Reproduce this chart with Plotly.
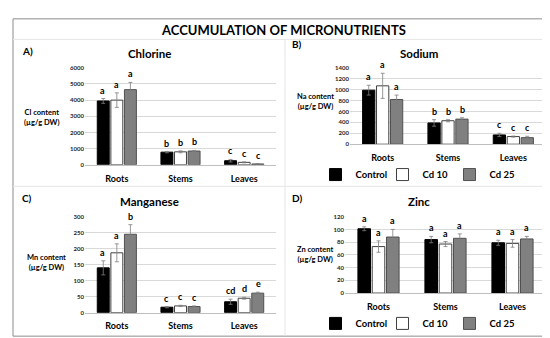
import plotly.graph_objects as go

organs = ["Roots", "Stems", "Leaves"]
treatments = ["Control", "Cd 10", "Cd 25"]

# Chlorine (µg/g DW)
cl_vals = {"Control": [3950, 780, 250], "Cd 10": [4000, 800, 150], "Cd 25": [4650, 850, 50]}
cl_err = {"Control": [150, 40, 80], "Cd 10": [450, 60, 30], "Cd 25": [450, 40, 20]}
cl_let = {"Control": ["a", "b", "c"], "Cd 10": ["a", "b", "c"], "Cd 25": ["a", "b", "c"]}

# Sodium
na_vals = {"Control": [990, 390, 170], "Cd 10": [1070, 430, 140], "Cd 25": [820, 460, 120]}
na_err = {"Control": [90, 60, 30], "Cd 10": [230, 20, 10], "Cd 25": [80, 25, 25]}
na_let = {"Control": ["a", "b", "c"], "Cd 10": ["a", "b", "c"], "Cd 25": ["a", "b", "c"]}

# Manganese
mn_vals = {"Control": [140, 17, 34], "Cd 10": [187, 21, 45], "Cd 25": [245, 19, 61]}
mn_err = {"Control": [22, 2, 8], "Cd 10": [28, 2, 3], "Cd 25": [30, 2, 3]}
mn_let = {"Control": ["a", "c", "cd"], "Cd 10": ["a", "c", "d"], "Cd 25": ["b", "c", "e"]}

# Zinc
zn_vals = {"Control": [101, 84, 79], "Cd 10": [73, 77, 78], "Cd 25": [88, 86, 85]}
zn_err = {"Control": [3, 5, 4], "Cd 10": [9, 4, 6], "Cd 25": [12, 7, 4]}
zn_let = {"Control": ["a", "a", "a"], "Cd 10": ["a", "a", "a"], "Cd 25": ["a", "a", "a"]}

fill = {"Control": "#000000", "Cd 10": "#ffffff", "Cd 25": "#808080"}
edge = {"Control": "#000000", "Cd 10": "#404040", "Cd 25": "#505050"}
shift = {"Control": -14, "Cd 10": 0, "Cd 25": 14}

FONT = "Lato"
W, H = 550, 338

def px_x(p):
    return p / W

def px_y(p):
    return 1 - p / H

fig = go.Figure()

panels = [
    ("", "", cl_vals, cl_err, cl_let, 6000, 1000, None),
    ("2", "2", na_vals, na_err, na_let, 1400, 200, "legend"),
    ("3", "3", mn_vals, mn_err, mn_let, 300, 50, None),
    ("4", "4", zn_vals, zn_err, zn_let, 120, 20, "legend2"),
]

annotations = []
for xs, ys, vals, errs, lets, ymax, dt, leg in panels:
    for t in treatments:
        fig.add_trace(go.Bar(
            x=organs, y=vals[t], name="<b>%s</b>" % t,
            xaxis="x" + xs, yaxis="y" + ys,
            marker=dict(color=fill[t], line=dict(color=edge[t], width=1)),
            error_y=dict(type="data", array=errs[t], color="#7f7f7f", thickness=0.8, width=2),
            showlegend=leg is not None,
            legend=leg if leg else "legend",
        ))
        for o, v, e, l in zip(organs, vals[t], errs[t], lets[t]):
            annotations.append(dict(
                x=o, y=v + e, xref="x" + xs, yref="y" + ys, text="<b>%s</b>" % l,
                showarrow=False, xshift=shift[t], yshift=1, yanchor="bottom",
                font=dict(family=FONT, size=9, color="#000"),
            ))

axis_common = dict(showgrid=False, showline=True, linecolor="#bfbfbf", linewidth=1,
                   ticks="outside", ticklen=5, tickcolor="rgba(0,0,0,0)",
                   tickfont=dict(family=FONT, size=9, color="#000"), fixedrange=True)
yaxis_common = dict(showgrid=True, gridcolor="#d9d9d9", gridwidth=1, zeroline=False,
                    showline=False, tickfont=dict(family=FONT, size=6, color="#262626"),
                    ticks="", fixedrange=True)

dom = {
    "": ([77, 268], [156, 57]),
    "2": ([342, 538], [135, 57]),
    "3": ([77, 268], [307, 209]),
    "4": ([337, 538], [287, 209]),
}
layout_axes = {}
for xs, ys, vals, errs, lets, ymax, dt, leg in panels:
    dx, dy = dom[xs]
    layout_axes["xaxis" + xs] = dict(axis_common, domain=[px_x(dx[0]), px_x(dx[1])],
                                     anchor="y" + ys, tickprefix="<b>", ticksuffix="</b>")
    layout_axes["yaxis" + ys] = dict(yaxis_common, domain=[px_y(dy[0]), px_y(dy[1])],
                                     anchor="x" + xs, range=[0, ymax], dtick=dt,
                                     tickprefix="<b>", ticksuffix="</b>")

# Texts
texts = [
    ("<b>ACCUMULATION OF MICRONUTRIENTS</b>", 275, 18, 13, "center"),
    ("<b>A)</b>", 12, 40, 10, "left"),
    ("<b>B)</b>", 282, 33, 10, "left"),
    ("<b>C)</b>", 12, 190, 10, "left"),
    ("<b>D)</b>", 282, 190, 10, "left"),
    ("<b>Chlorine</b>", 141, 42, 11.5, "center"),
    ("<b>Sodium</b>", 411, 42, 11.5, "center"),
    ("<b>Manganese</b>", 141, 193, 11.5, "center"),
    ("<b>Zinc</b>", 411, 194, 11.5, "center"),
]
for t, x, y, s, al in texts:
    annotations.append(dict(text=t, x=px_x(x), y=px_y(y), xref="paper", yref="paper",
                            xanchor=al, yanchor="middle", showarrow=False,
                            font=dict(family=FONT, size=s, color="#000")))

ylabels = [
    ("Cl content", 33, 108),
    ("Na content", 307, 91),
    ("Mn content", 38, 256),
    ("Zn content", 307, 248),
]
for lab, x, y in ylabels:
    annotations.append(dict(text="<b>%s<br>(µg/g DW)</b>" % lab, x=px_x(x), y=px_y(y),
                            xref="paper", yref="paper", xanchor="center", yanchor="middle",
                            showarrow=False, align="center",
                            font=dict(family=FONT, size=7.5, color="#000")))

shapes = [
    dict(type="rect", xref="paper", yref="paper", x0=px_x(5), x1=px_x(545), y0=px_y(331), y1=px_y(7),
         line=dict(color="#8c8c8c", width=1)),
    dict(type="line", xref="paper", yref="paper", x0=px_x(5), x1=px_x(545), y0=px_y(28), y1=px_y(28),
         line=dict(color="#e6e6e6", width=1)),
    dict(type="line", xref="paper", yref="paper", x0=px_x(5), x1=px_x(545), y0=px_y(178), y1=px_y(178),
         line=dict(color="#e6e6e6", width=1)),
    dict(type="line", xref="paper", yref="paper", x0=px_x(277), x1=px_x(277), y0=px_y(331), y1=px_y(28),
         line=dict(color="#e6e6e6", width=1)),
]

legend_common = dict(orientation="h", xanchor="center", yanchor="middle",
                     font=dict(family=FONT, size=9.5, color="#000"), itemwidth=30,
                     entrywidth=22, entrywidthmode="pixels",
                     bgcolor="rgba(0,0,0,0)", traceorder="normal", itemclick=False)

fig.update_layout(
    width=W, height=H, margin=dict(l=0, r=0, t=0, b=0),
    paper_bgcolor="white", plot_bgcolor="white",
    barmode="group", bargap=0.36, bargroupgap=0.12,
    annotations=annotations, shapes=shapes,
    legend=dict(legend_common, x=px_x(408), y=px_y(166)),
    legend2=dict(legend_common, x=px_x(408), y=px_y(318)),
    **layout_axes,
)

fig.write_html("out.html")
